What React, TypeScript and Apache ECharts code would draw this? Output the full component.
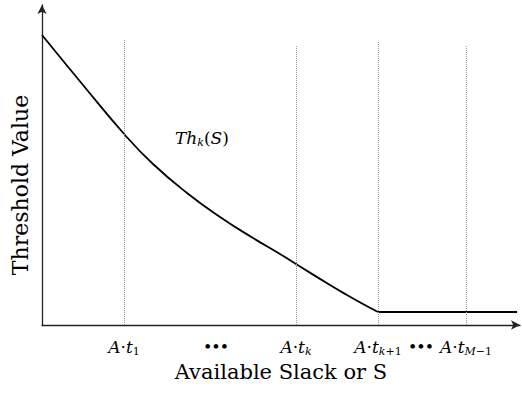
import React, { useEffect, useRef } from "react";
import * as echarts from "echarts";

// Threshold curve Th_k(S): [slack, threshold] — decreasing part
const curveX = [0, 41, 83, 111, 145, 178, 211, 238, 254, 288, 305, 321, 336];
const curveY = [290, 240, 190, 161, 132, 108, 87, 71, 61, 40, 30, 21, 13];
// Constant part after A·t_{k+1}
const flatX = [336, 475];
const flatY = [13, 13];

// Breakpoints A·t_i (dotted guide lines) and their top values
const guideX = [82, 254, 336, 424];
const guideTop = [285, 279, 284, 279];

// Tick positions and tick labels on the slack axis
const tickValues = [82, 174, 254, 336, 379, 424];
const tickLabels = [
  "{i|A}{n|·}{i|t}{s|1}",
  "{d|•••}",
  "{i|A}{n|·}{i|t}{si|k}",
  "{i|A}{n|·}{i|t}{si|k}{s|+1}",
  "{d|•••}",
  "{i|A}{n|·}{i|t}{si|M}{s|−1}",
];

const xName = "Available Slack or S";
const yName = "Threshold Value";
const curveLabel = "{i|Th}{si|k}{n|(}{i|S}{n|)}";

const FONT = "DejaVu Serif";

const rich = {
  i: { fontFamily: FONT, fontStyle: "italic", fontSize: 17, color: "#000" },
  n: { fontFamily: FONT, fontSize: 17, color: "#000" },
  s: { fontFamily: FONT, fontSize: 11, color: "#000", padding: [9, 0, 0, 0] },
  si: { fontFamily: FONT, fontStyle: "italic", fontSize: 11, color: "#000", padding: [9, 0, 0, 0] },
  d: { fontFamily: FONT, fontSize: 13, fontWeight: "bold", color: "#000", padding: [3, 0, 0, 0] },
};

export default function App() {
  const ref = useRef<HTMLDivElement>(null);
  useEffect(() => {
    if (!ref.current) return;
    const chart = echarts.init(ref.current, undefined, { renderer: "svg" });
    const curve = curveX.map((x, i) => [x, curveY[i]]);
    const flat = flatX.map((x, i) => [x, flatY[i]]);
    chart.setOption({
      animation: false,
      textStyle: { fontFamily: FONT },
      grid: { left: 42, right: 2, top: 5, bottom: 72 },
      xAxis: {
        type: "value",
        min: 0,
        max: 478,
        splitLine: { show: false },
        axisTick: { show: false },
        axisLine: {
          lineStyle: { color: "#222", width: 1.3 },
          symbol: ["none", "arrow"],
          symbolSize: [7, 9],
        },
        axisLabel: {
          customValues: tickValues,
          formatter: (v: number) => {
            const idx = tickValues.indexOf(v);
            return idx >= 0 ? tickLabels[idx] : "";
          },
          fontFamily: FONT,
          rich,
          margin: 12,
          showMinLabel: true,
          showMaxLabel: true,
        },
        name: xName,
        nameLocation: "middle",
        nameGap: 35,
        nameTextStyle: { fontFamily: FONT, fontSize: 21, color: "#000" },
      },
      yAxis: {
        type: "value",
        min: 0,
        max: 320,
        splitLine: { show: false },
        axisTick: { show: false },
        axisLabel: { show: false },
        axisLine: {
          lineStyle: { color: "#222", width: 1.3 },
          symbol: ["none", "arrow"],
          symbolSize: [7, 9],
        },
      },
      graphic: [
        {
          type: "text",
          x: 20,
          y: 185,
          rotation: Math.PI / 2,
          style: {
            text: yName,
            fontFamily: FONT,
            fontSize: 22,
            fill: "#000",
            align: "center",
            verticalAlign: "middle",
          },
        },
        {
          type: "text",
          x: 175,
          y: 138,
          style: {
            text: curveLabel,
            rich,
            align: "left",
            verticalAlign: "middle",
          },
        },
      ],
      series: [
        {
          type: "line",
          data: curve,
          showSymbol: false,
          smooth: 0.5,
          lineStyle: { color: "#000", width: 1.8 },
          markLine: {
            silent: true,
            symbol: ["none", "none"],
            label: { show: false },
            lineStyle: { color: "#999", width: 1, type: [1, 1] },
            data: guideX.map((x, i) => [
              { coord: [x, 0] },
              { coord: [x, guideTop[i]] },
            ]),
          },
        },
        {
          type: "line",
          data: flat,
          showSymbol: false,
          lineStyle: { color: "#000", width: 1.8 },
        },
      ],
    });
    return () => chart.dispose();
  }, []);
  return (
    <div
      ref={ref}
      style={{ position: "absolute", left: 0, top: 0, width: 522, height: 397 }}
    />
  );
}
